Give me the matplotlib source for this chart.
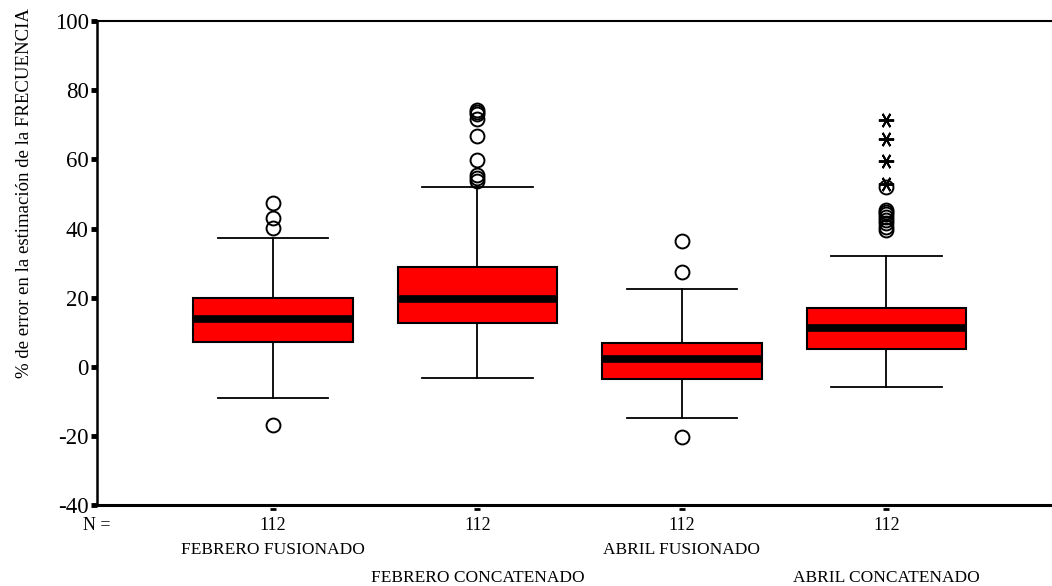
import matplotlib.pyplot as plt

plt.rcParams['font.family'] = ['Liberation Serif', 'DejaVu Serif']

# groups and box statistics
groups = ['FEBRERO FUSIONADO', 'FEBRERO CONCATENADO', 'ABRIL FUSIONADO', 'ABRIL CONCATENADO']
n_values = [112, 112, 112, 112]
q1 = [7.2, 12.7, -3.6, 5.2]
medians = [13.9, 19.6, 2.3, 11.3]
q3 = [19.9, 28.9, 6.8, 17.0]
whis_lo = [-8.9, -3.2, -14.9, -5.8]
whis_hi = [37.2, 51.9, 22.5, 32.0]
outliers = [
    [47.3, 43.0, 40.1, -16.7],
    [74.4, 73.8, 73.2, 71.7, 66.9, 59.8, 55.5, 54.6, 53.8],
    [36.4, 27.3, -20.4],
    [52.0, 45.5, 44.8, 44.2, 43.4, 42.5, 41.5, 40.5, 39.6],
]
extremes = [[], [], [], [71.3, 65.8, 59.5, 52.8]]

yticks = [-40, -20, 0, 20, 40, 60, 80, 100]

fig = plt.figure(figsize=(10.52, 5.86), dpi=100)
ax = fig.add_axes([0.0922, 0.138, 0.9078, 0.826])

positions = list(range(1, len(groups) + 1))
stats = []
for i in range(len(groups)):
    stats.append({'med': medians[i], 'q1': q1[i], 'q3': q3[i],
                  'whislo': whis_lo[i], 'whishi': whis_hi[i],
                  'fliers': outliers[i], 'label': groups[i]})

ax.bxp(stats, positions=positions, widths=0.78, capwidths=0.54,
       patch_artist=True, manage_ticks=False,
       boxprops=dict(facecolor='#ff0000', edgecolor='black', linewidth=1.5),
       medianprops=dict(color='black', linewidth=5.5),
       whiskerprops=dict(color='black', linewidth=1.3),
       capprops=dict(color='black', linewidth=1.3),
       flierprops=dict(marker='o', markersize=10, markerfacecolor='none',
                       markeredgecolor='black', markeredgewidth=1.4))

for p, ext in zip(positions, extremes):
    if ext:
        ax.plot([p] * len(ext), ext, linestyle='none', marker=(6, 2, 90),
                markersize=11, color='black', markeredgewidth=1.4)

ax.set_xlim(0.14, 4.81)
ax.set_ylim(-40, 100)
ax.set_yticks(yticks)
ax.set_yticklabels([str(t) for t in yticks], fontsize=16.5)
ax.tick_params(axis='y', length=4, width=3.5, pad=2, direction='out')
ax.set_xticks([])
ax.spines['right'].set_visible(False)
ax.spines['left'].set_linewidth(1.8)
ax.spines['bottom'].set_linewidth(2.2)
ax.spines['top'].set_linewidth(1.5)

ax.set_ylabel('% de error en la estimación de la FRECUENCIA', fontsize=13.5)
ax.yaxis.set_label_coords(-0.067, 0.645)

# small marks under each group, N row and group labels
tr = ax.get_xaxis_transform()
for i, p in enumerate(positions):
    ax.plot([p], [-0.007], marker='_', markersize=5, markeredgewidth=2,
            color='black', transform=tr, clip_on=False)
    ax.text(p, -0.043, str(n_values[i]), transform=tr, ha='center', va='center', fontsize=13)
    row_y = -0.093 if i % 2 == 0 else -0.151
    ax.text(p, row_y, groups[i], transform=tr, ha='center', va='center', fontsize=12.5)
ax.text(0.0, -0.043, 'N =', transform=ax.transAxes, ha='center', va='center', fontsize=13)

fig.savefig('out.png', dpi=100)
